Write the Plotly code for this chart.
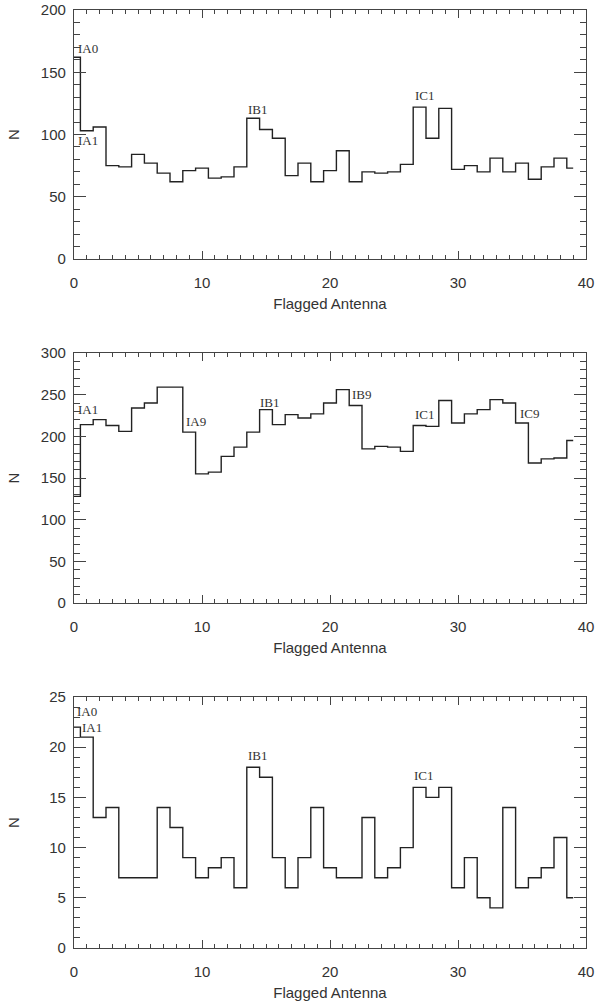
import plotly.graph_objects as go
from plotly.subplots import make_subplots

antenna = list(range(40))

n_top = [162, 103, 106, 75, 74, 84, 77, 69, 62, 71,
         73, 65, 66, 74, 113, 104, 97, 67, 77, 62,
         71, 87, 62, 70, 69, 70, 76, 122, 97, 121,
         72, 75, 70, 81, 70, 77, 64, 74, 81, 73]

n_mid = [128, 214, 220, 213, 206, 234, 240, 259, 259, 205,
         155, 157, 176, 187, 205, 232, 214, 226, 222, 227,
         240, 256, 237, 185, 188, 187, 182, 213, 212, 243,
         216, 227, 232, 244, 240, 216, 168, 173, 174, 195]

n_bot = [22, 21, 13, 14, 7, 7, 7, 14, 12, 9,
         7, 8, 9, 6, 18, 17, 9, 6, 9, 14,
         8, 7, 7, 13, 7, 8, 10, 16, 15, 16,
         6, 9, 5, 4, 14, 6, 7, 8, 11, 5]

labels_top = [("IA0", 0.15, 164), ("IA1", 0.15, 90), ("IB1", 13.4, 115), ("IC1", 26.5, 126)]
labels_mid = [("IA1", 0.15, 224), ("IA9", 8.6, 210), ("IB1", 14.4, 233),
              ("IB9", 21.6, 242), ("IC1", 26.5, 219), ("IC9", 34.7, 220)]
labels_bot = [("IA0", 0.1, 22.9), ("IA1", 0.5, 21.3), ("IB1", 13.4, 18.5), ("IC1", 26.4, 16.5)]

panels = [
    (n_top, [0, 200], 50, 10, labels_top, 17),
    (n_mid, [0, 300], 50, 10, labels_mid, 17),
    (n_bot, [0, 25], 5, 1, labels_bot, 25),
]

W, H = 596, 1005
x_dom = [74 / W, 586 / W]
y_pix = [(10, 259), (353, 603), (697, 948)]

fig = make_subplots(rows=3, cols=1)

axis_col = "#444444"
tick_font = dict(family="Liberation Sans, Arial, sans-serif", size=15, color="#333333")

for i, (vals, yr, dmaj, dmin, labs, nstand) in enumerate(panels):
    r = i + 1
    fig.add_trace(go.Scatter(x=antenna, y=vals, mode="lines",
                             line=dict(shape="hvh", color="#222222", width=1.4),
                             showlegend=False, hoverinfo="skip"), row=r, col=1)
    top, bot = y_pix[i]
    fig.update_xaxes(range=[0, 40], domain=x_dom, dtick=10, tick0=0, automargin=False,
                     ticks="inside", ticklen=8, tickcolor=axis_col, tickwidth=1,
                     minor=dict(ticks="inside", ticklen=4, dtick=1, tickcolor=axis_col, showgrid=False),
                     showline=True, linecolor=axis_col, linewidth=1.3, mirror="allticks",
                     showgrid=False, zeroline=False, tickfont=tick_font, ticklabelstandoff=10,
                     title=dict(text="Flagged Antenna", font=tick_font, standoff=8),
                     row=r, col=1)
    fig.update_yaxes(range=yr, domain=[1 - bot / H, 1 - top / H], dtick=dmaj, tick0=0, automargin=False,
                     ticks="inside", ticklen=12, tickcolor=axis_col, tickwidth=1,
                     minor=dict(ticks="inside", ticklen=6, dtick=dmin, tickcolor=axis_col, showgrid=False),
                     showline=True, linecolor=axis_col, linewidth=1.3, mirror="allticks",
                     showgrid=False, zeroline=False, tickfont=tick_font, ticklabelstandoff=4,
                     title=dict(text="N", font=tick_font, standoff=nstand),
                     row=r, col=1)
    xref = "x" if r == 1 else f"x{r}"
    yref = "y" if r == 1 else f"y{r}"
    for txt, lx, ly in labs:
        fig.add_annotation(x=lx, y=ly, xref=xref, yref=yref, text=txt, showarrow=False,
                           xanchor="left", yanchor="bottom", yshift=-3,
                           font=dict(family="Liberation Serif, Times New Roman, serif", size=13, color="#333333"))

fig.update_layout(width=W, height=H, margin=dict(l=0, r=0, t=0, b=0, autoexpand=False),
                  paper_bgcolor="white", plot_bgcolor="white")

fig.write_html("out.html", config={"displayModeBar": False},
               post_script="document.body.style.margin='0';document.body.style.overflow='hidden';")
